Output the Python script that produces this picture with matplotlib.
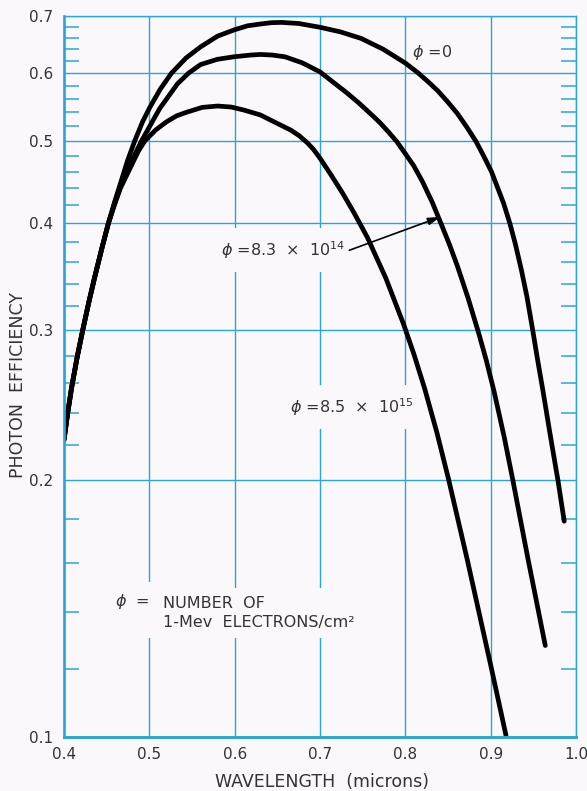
import numpy as np
import matplotlib
matplotlib.use('Agg')
import matplotlib.pyplot as plt
from matplotlib.ticker import FixedLocator, NullFormatter, NullLocator

plt.rcParams['font.family'] = ['DejaVu Sans']

# curves (wavelength in microns, photon efficiency)
wl_phi0 = [0.400, 0.4045, 0.409, 0.4155, 0.422, 0.429, 0.436, 0.444, 0.452, 0.459,
           0.466, 0.4745, 0.483, 0.492, 0.501, 0.513, 0.526, 0.543, 0.560, 0.580,
           0.599, 0.615, 0.630, 0.643, 0.655, 0.675, 0.700, 0.724, 0.748, 0.774,
           0.800, 0.815, 0.8265, 0.838, 0.8495, 0.861, 0.872, 0.883, 0.892, 0.901,
           0.908, 0.915, 0.9225, 0.929, 0.936, 0.9425, 0.949, 0.955, 0.961, 0.969,
           0.974, 0.979, 0.9862]
eff_phi0 = [0.223, 0.2404, 0.257, 0.279, 0.300, 0.323, 0.346, 0.3727, 0.400, 0.4229,
            0.445, 0.4739, 0.500, 0.526, 0.548, 0.575, 0.600, 0.625, 0.644, 0.663,
            0.674, 0.6817, 0.685, 0.6875, 0.688, 0.686, 0.679, 0.6706, 0.659, 0.640,
            0.6165, 0.6003, 0.5864, 0.5721, 0.5554, 0.538, 0.5187, 0.4986, 0.4793, 0.4597,
            0.4408, 0.4227, 0.400, 0.3781, 0.3527, 0.3282, 0.301, 0.2768, 0.2555, 0.2285,
            0.2134, 0.1995, 0.179]

wl_phi14 = [0.400, 0.4045, 0.409, 0.4155, 0.422, 0.429, 0.436, 0.444, 0.452, 0.459,
            0.466, 0.4785, 0.491, 0.512, 0.533, 0.546, 0.560, 0.5795, 0.599, 0.619,
            0.630, 0.644, 0.659, 0.679, 0.700, 0.715, 0.730, 0.745, 0.760, 0.770,
            0.780, 0.790, 0.800, 0.810, 0.820, 0.8315, 0.843, 0.852, 0.861, 0.8735,
            0.886, 0.895, 0.904, 0.916, 0.926, 0.935, 0.944, 0.954, 0.964]
eff_phi14 = [0.223, 0.2404, 0.257, 0.279, 0.300, 0.323, 0.346, 0.3727, 0.400, 0.421,
             0.4418, 0.4716, 0.500, 0.545, 0.583, 0.600, 0.614, 0.6227, 0.627, 0.630,
             0.631, 0.630, 0.627, 0.617, 0.602, 0.5859, 0.5704, 0.5541, 0.5368, 0.5252,
             0.5122, 0.4987, 0.4828, 0.467, 0.4478, 0.4235, 0.3971, 0.3771, 0.3565, 0.327,
             0.2973, 0.2761, 0.2541, 0.2244, 0.200, 0.1795, 0.1612, 0.1437, 0.128]

wl_phi15 = [0.400, 0.4045, 0.409, 0.4155, 0.422, 0.429, 0.436, 0.444, 0.452, 0.459,
            0.466, 0.480, 0.4875, 0.495, 0.5075, 0.520, 0.532, 0.544, 0.562, 0.580,
            0.596, 0.611, 0.630, 0.642, 0.6655, 0.675, 0.685, 0.6925, 0.700, 0.7126,
            0.7264, 0.740, 0.7557, 0.777, 0.798, 0.810, 0.8227, 0.837, 0.8505, 0.8725,
            0.8995, 0.918]
eff_phi15 = [0.223, 0.2404, 0.257, 0.279, 0.300, 0.323, 0.346, 0.3727, 0.400, 0.420,
             0.4395, 0.4699, 0.4868, 0.500, 0.5147, 0.526, 0.5347, 0.540, 0.547, 0.549,
             0.5475, 0.543, 0.536, 0.5286, 0.5146, 0.5073, 0.4973, 0.4882, 0.4769, 0.4564,
             0.4341, 0.4113, 0.3848, 0.3453, 0.3046, 0.2811, 0.256, 0.2274, 0.2008, 0.1615,
             0.1221, 0.1004]

x_ticks = [0.4, 0.5, 0.6, 0.7, 0.8, 0.9, 1.0]
x_labels = ['0.4', '0.5', '0.6', '0.7', '0.8', '0.9', '1.0']
y_ticks = [0.1, 0.2, 0.3, 0.4, 0.5, 0.6, 0.7]
y_labels = ['0.1', '0.2', '0.3', '0.4', '0.5', '0.6', '0.7']
y_minor = [0.12, 0.14, 0.16, 0.18, 0.22, 0.24, 0.26, 0.28, 0.32, 0.34, 0.36, 0.38,
           0.42, 0.44, 0.46, 0.48, 0.52, 0.54, 0.56, 0.58, 0.62, 0.64, 0.66, 0.68]

bg = '#faf8fb'
cyan = '#29a6d8'
ink = '#333333'

fig = plt.figure(figsize=(5.87, 7.91), dpi=100, facecolor=bg)
ax = fig.add_axes([64 / 587, 54 / 791, 512 / 587, 721 / 791], facecolor=bg)

ax.set_yscale('log')
ax.set_xlim(0.4, 1.0)
ax.set_ylim(0.1, 0.7)

for wl, eff in [(wl_phi0, eff_phi0), (wl_phi14, eff_phi14), (wl_phi15, eff_phi15)]:
    ax.plot(wl, eff, color='black', lw=3.4, solid_capstyle='round',
            solid_joinstyle='round', zorder=2)

ax.set_xticks(x_ticks, x_labels)
ax.set_yticks(y_ticks, y_labels)
ax.xaxis.set_minor_locator(NullLocator())
ax.yaxis.set_minor_locator(FixedLocator(y_minor))
ax.yaxis.set_minor_formatter(NullFormatter())

ax.set_axisbelow(True)
ax.grid(True, which='major', color=cyan, lw=1.0)
ax.tick_params(axis='both', which='major', length=0, labelsize=11, labelcolor=ink)
ax.tick_params(axis='x', which='major', pad=7)
ax.tick_params(axis='y', which='major', pad=8)
ax.tick_params(axis='y', which='minor', direction='in', length=10.5, width=1.1,
               color=cyan, left=True, right=True)

for side, w in [('left', 1.9), ('bottom', 2.1), ('top', 1.0), ('right', 1.0)]:
    ax.spines[side].set_color(cyan)
    ax.spines[side].set_linewidth(w)

fig.text(322 / 587, 4 / 791, 'WAVELENGTH  (microns)', ha='center', va='baseline',
         fontsize=12.5, color=ink)
fig.text(18.5 / 587, 1 - 385 / 791, 'PHOTON  EFFICIENCY', ha='center', va='center',
         rotation=90, fontsize=12.5, color=ink)

# curve labels
ax.text(0.8078, 0.6266, r'$\phi$ =0', ha='left', va='baseline', fontsize=11.5, color=ink)
box = dict(boxstyle='square,pad=0.7', facecolor=bg, edgecolor='none')
ax.text(0.7293, 0.3662, r'$\phi$ =8.3  ×  10$^{14}$', ha='right', va='baseline',
        fontsize=11.5, color=ink, bbox=box, zorder=1.5)
ax.text(0.6653, 0.2397, r'$\phi$ =8.5  ×  10$^{15}$', ha='left', va='baseline',
        fontsize=11.5, color=ink, bbox=box, zorder=1.5)
ax.annotate('', xy=(0.841, 0.407), xytext=(0.7345, 0.372),
            arrowprops=dict(arrowstyle='-|>,head_length=0.6,head_width=0.18',
                            mutation_scale=12, color='black', lw=1.2,
                            shrinkA=0, shrinkB=0), zorder=3)

box2 = dict(boxstyle='square,pad=0.5', facecolor=bg, edgecolor='none')
ax.text(0.4598, 0.1345, '$\\phi$  =\n ', ha='left', va='baseline', fontsize=11.5,
        color=ink, bbox=box2, zorder=1.5, linespacing=1.375)
ax.text(0.516, 0.1345, 'NUMBER  OF\n1-Mev  ELECTRONS/cm²', ha='left', va='baseline',
        fontsize=11.5, color=ink, bbox=box2, zorder=1.5, linespacing=1.375)

fig.savefig('out.png', dpi=100, facecolor=bg)
